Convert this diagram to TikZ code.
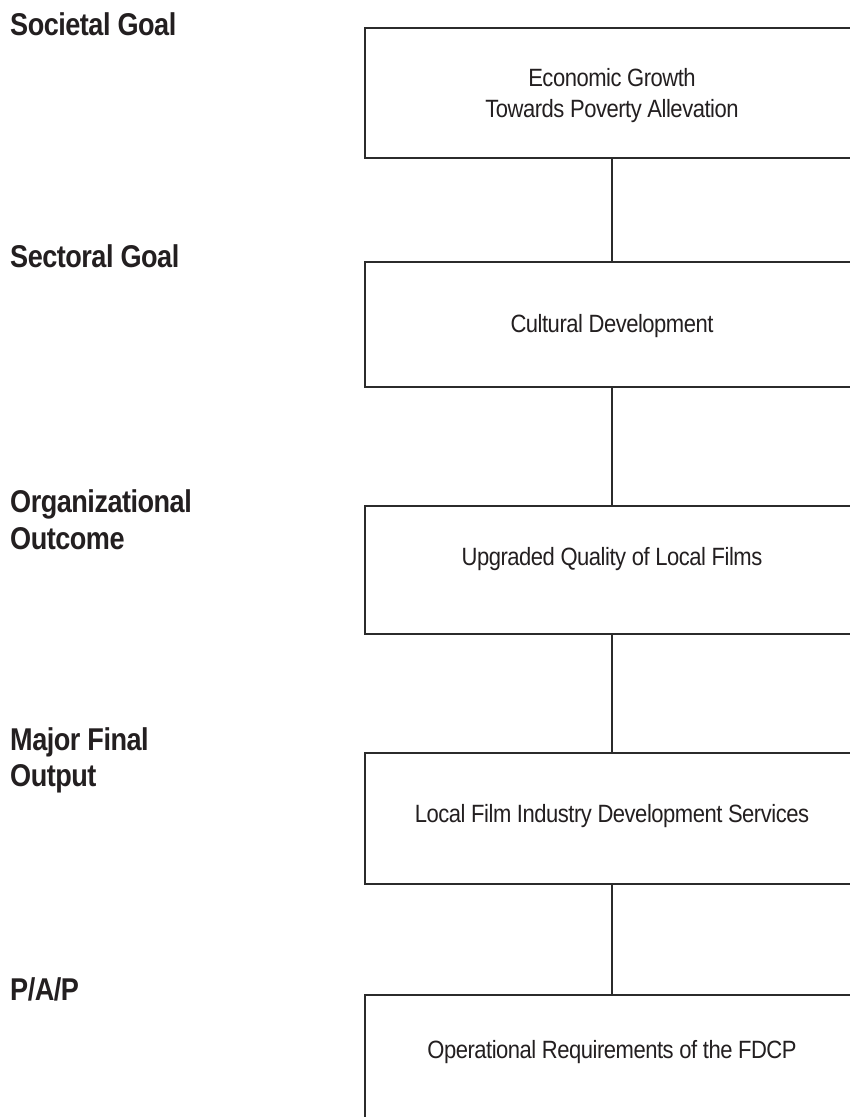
\documentclass[tikz,border=0pt]{standalone}
\usepackage{fontspec}
\newfontfamily\boxfont[FakeStretch=0.88,LetterSpace=-1.9]{Liberation Sans}
\newfontfamily\labfont[FakeStretch=0.86,LetterSpace=-1.6]{Liberation Sans}
\definecolor{ink}{HTML}{231F20}
\definecolor{rule}{HTML}{2B2B2B}
\begin{document}
\begin{tikzpicture}[x=1pt,y=-1pt,
  box/.style={draw=rule, line width=2.2pt, rectangle, minimum width=494pt, inner sep=0pt},
  conn/.style={draw=rule, line width=2pt},
  boxtext/.style={anchor=base, inner sep=0pt, text=ink, font=\boxfont\fontsize{25}{31}\selectfont},
  labtext/.style={anchor=base west, inner sep=0pt, text=ink, font=\labfont\bfseries\fontsize{31.5}{37}\selectfont}]
\useasboundingbox (0,0) rectangle (850,1117);
\fill[white] (0,0) rectangle (850,1117);
\clip (0,0) rectangle (850,1117);
% boxes
\node[box, minimum height=130pt] (b1) at (612,93) {};
\node[box, minimum height=125pt] (b2) at (612,324.5) {};
\node[box, minimum height=128pt] (b3) at (612,570) {};
\node[box, minimum height=131pt] (b4) at (612,818.5) {};
\node[box, minimum height=130pt] (b5) at (612,1060) {};
% connectors
\draw[conn] (b1.south) -- (b2.north);
\draw[conn] (b2.south) -- (b3.north);
\draw[conn] (b3.south) -- (b4.north);
\draw[conn] (b4.south) -- (b5.north);
% box texts
\node[boxtext] (t1a) at (612,86) {Economic Growth};
\node[boxtext] (t1b) at (612,117) {Towards Poverty Allevation};
\node[boxtext] (t2) at (612,332) {Cultural Development};
\node[boxtext] (t3) at (612,565) {Upgraded Quality of Local Films};
\node[boxtext] (t4) at (612,822) {Local Film Industry Development Services};
\node[boxtext] (t5) at (612,1058) {Operational Requirements of the FDCP};
% level labels
\node[labtext] (l1) at (10,35) {Societal Goal};
\node[labtext] (l2) at (10,267) {Sectoral Goal};
\node[labtext] (l3a) at (10,512) {Organizational};
\node[labtext] (l3b) at (10,549) {Outcome};
\node[labtext] (l4a) at (10,750) {Major Final};
\node[labtext] (l4b) at (10,786) {Output};
\node[labtext] (l5) at (10,1000) {P/A/P};
\end{tikzpicture}
\end{document}
